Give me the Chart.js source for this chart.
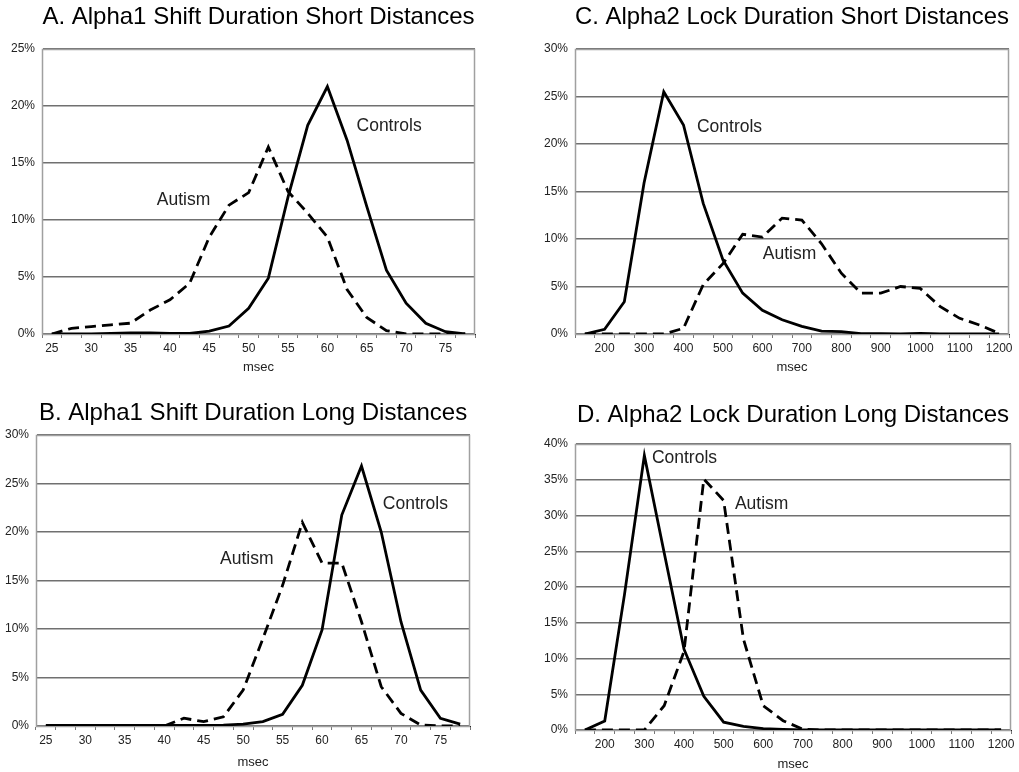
<!DOCTYPE html>
<html>
<head>
<meta charset="utf-8">
<script src="https://cdn.jsdelivr.net/npm/chart.js@4.4.0/dist/chart.umd.min.js"></script>
<style>
  body { margin: 0; background: #fff; width: 1019px; height: 772px; position: relative; overflow: hidden; }
  .panel { position: absolute; }
</style>
</head>
<body>
<div class="panel" style="left:0;top:0"><canvas id="chartA" width="500" height="380"></canvas></div>
<div class="panel" style="left:0;top:396px"><canvas id="chartB" width="500" height="376"></canvas></div>
<div class="panel" style="left:510px;top:0"><canvas id="chartC" width="509" height="380"></canvas></div>
<div class="panel" style="left:510px;top:396px"><canvas id="chartD" width="509" height="376"></canvas></div>
<script>
// categories (msec bins)
var shiftCats = [25, 27.5, 30, 32.5, 35, 37.5, 40, 42.5, 45, 47.5, 50, 52.5, 55, 57.5, 60, 62.5, 65, 67.5, 70, 72.5, 75, 77.5];
var lockCats = [150, 200, 250, 300, 350, 400, 450, 500, 550, 600, 650, 700, 750, 800, 850, 900, 950, 1000, 1050, 1100, 1150, 1200];

// percentages
var shiftShortControls = [0, 0, 0, 0.05, 0.1, 0.1, 0.05, 0.05, 0.25, 0.7, 2.25, 4.9, 12.0, 18.3, 21.7, 17.0, 11.2, 5.6, 2.7, 0.94, 0.2, 0];
var shiftShortAutism = [0, 0.5, 0.65, 0.8, 0.95, 2.1, 3.0, 4.45, 8.5, 11.3, 12.4, 16.4, 12.5, 10.6, 8.5, 3.9, 1.45, 0.3, 0, 0, 0, 0];
var shiftLongControls = [0.05, 0.05, 0.05, 0.05, 0.05, 0.05, 0.05, 0.05, 0.05, 0.1, 0.2, 0.45, 1.2, 4.2, 9.9, 21.75, 26.8, 20.0, 10.75, 3.7, 0.8, 0.2];
var shiftLongAutism = [0, 0, 0, 0, 0, 0, 0, 0.8, 0.45, 0.95, 3.7, 9.0, 14.5, 21.0, 16.8, 16.8, 10.75, 4.05, 1.3, 0.1, 0, 0];
var lockShortControls = [0, 0.5, 3.4, 15.9, 25.5, 22.0, 13.75, 7.8, 4.3, 2.5, 1.5, 0.8, 0.3, 0.25, 0.05, 0.05, 0, 0.05, 0, 0, 0, 0];
var lockShortAutism = [0, 0, 0, 0, 0, 0.6, 5.2, 7.4, 10.5, 10.2, 12.2, 12.0, 9.5, 6.4, 4.3, 4.3, 5.0, 4.8, 2.9, 1.65, 0.95, 0.07];
var lockLongControls = [0, 1.25, 19.0, 38.4, 24.8, 11.3, 4.7, 1.1, 0.5, 0.2, 0.1, 0, 0, 0, 0, 0, 0, 0, 0, 0, 0, 0];
var lockLongAutism = [0, 0, 0, 0, 3.4, 11.0, 35.1, 32.1, 12.7, 3.4, 1.3, 0.1, 0, 0, 0, 0, 0, 0, 0, 0, 0, 0];

var FONT = "'Liberation Sans', Arial, sans-serif";

// grey box round the plot area
var frame = {
  id: 'frame',
  beforeDatasetsDraw: function (chart) {
    var a = chart.chartArea, ctx = chart.ctx;
    ctx.save();
    ctx.strokeStyle = '#a0a0a0';
    ctx.lineWidth = 1.5;
    ctx.strokeRect(Math.round(a.left) + 0.5, Math.round(a.top) + 0.5, Math.round(a.right - a.left) - 1, Math.round(a.bottom - a.top));
    ctx.restore();
  }
};

// "Controls" / "Autism" text placed through the scales
var curveLabels = {
  id: 'curveLabels',
  afterDatasetsDraw: function (chart, args, opts) {
    var ctx = chart.ctx;
    ctx.save();
    ctx.font = '17.5px ' + FONT;
    ctx.fillStyle = '#222';
    ctx.textBaseline = 'middle';
    ctx.textAlign = 'left';
    (opts.items || []).forEach(function (it) {
      ctx.fillText(it[2], chart.scales.x.getPixelForValue(it[0]), chart.scales.y.getPixelForValue(it[1]));
    });
    ctx.restore();
  }
};

function makeChart(id, cfg) {
  return new Chart(document.getElementById(id), {
    type: 'line',
    data: {
      labels: cfg.cats,
      datasets: [{
        label: 'Controls',
        data: cfg.controls,
        borderColor: '#000',
        borderWidth: 2.8,
        pointRadius: 0,
        tension: 0
      }, {
        label: 'Autism',
        data: cfg.autism,
        borderColor: '#000',
        borderWidth: 2.8,
        borderDash: [11, 6],
        pointRadius: 0,
        tension: 0
      }]
    },
    options: {
      responsive: false,
      animation: false,
      layout: { padding: { left: 0, right: cfg.padRight, top: 0, bottom: 0 } },
      plugins: {
        legend: { display: false },
        tooltip: { enabled: false },
        title: {
          display: true,
          text: cfg.title,
          fullSize: false,
          color: '#000',
          font: { family: FONT, size: 24, weight: 'normal' },
          padding: { top: cfg.titleTop, bottom: cfg.titleBottom }
        },
        curveLabels: { items: cfg.notes }
      },
      scales: {
        x: {
          type: 'category',
          offset: true,
          grid: { display: true, drawOnChartArea: false, tickLength: 4, color: '#777', offset: true },
          border: { color: '#000', width: 1 },
          ticks: {
            autoSkip: false,
            maxRotation: 0,
            padding: 3,
            color: '#222',
            font: { family: FONT, size: 12 },
            callback: function (v, i) {
              return i % 2 === cfg.labelOdd ? this.getLabelForValue(v) : '';
            }
          },
          title: { display: true, text: 'msec', color: '#222', font: { family: FONT, size: 13 }, padding: { top: 0, bottom: cfg.msecPad } },
          afterFit: function (s) { s.height = cfg.xH; }
        },
        y: {
          min: 0,
          max: cfg.yMax,
          grid: { color: '#707070', lineWidth: 1.5, drawTicks: false },
          border: { color: '#a0a0a0' },
          ticks: {
            stepSize: 5,
            padding: 7,
            color: '#222',
            font: { family: FONT, size: 12 },
            callback: function (v) { return v + '%'; }
          },
          afterFit: function (s) { s.width = cfg.yW; }
        }
      }
    },
    plugins: [frame, curveLabels]
  });
}

makeChart('chartA', {
  title: 'A. Alpha1 Shift Duration Short Distances',
  cats: shiftCats, controls: shiftShortControls, autism: shiftShortAutism,
  yMax: 25, labelOdd: 0, yW: 42, padRight: 25, xH: 46, msecPad: 5,
  titleTop: 3, titleBottom: 17.2,
  notes: [[15.48, 18.2, 'Controls'], [5.33, 11.75, 'Autism']]
});

makeChart('chartB', {
  title: 'B. Alpha1 Shift Duration Long Distances',
  cats: shiftCats, controls: shiftLongControls, autism: shiftLongAutism,
  yMax: 30, labelOdd: 0, yW: 36, padRight: 30, xH: 46, msecPad: 2,
  titleTop: 3, titleBottom: 7.2,
  notes: [[17.08, 22.9, 'Controls'], [8.83, 17.2, 'Autism']]
});

makeChart('chartC', {
  title: 'C. Alpha2 Lock Duration Short Distances',
  cats: lockCats, controls: lockShortControls, autism: lockShortAutism,
  yMax: 30, labelOdd: 1, yW: 65, padRight: 10, xH: 46, msecPad: 5,
  titleTop: 3, titleBottom: 17.2,
  notes: [[5.68, 21.8, 'Controls'], [9.02, 8.4, 'Autism']]
});

makeChart('chartD', {
  title: 'D. Alpha2 Lock Duration Long Distances',
  cats: lockCats, controls: lockLongControls, autism: lockLongAutism,
  yMax: 40, labelOdd: 1, yW: 65, padRight: 8, xH: 42, msecPad: 0,
  titleTop: 4.6, titleBottom: 14.6,
  notes: [[3.38, 38.0, 'Controls'], [7.57, 31.6, 'Autism']]
});
</script>
</body>
</html>
